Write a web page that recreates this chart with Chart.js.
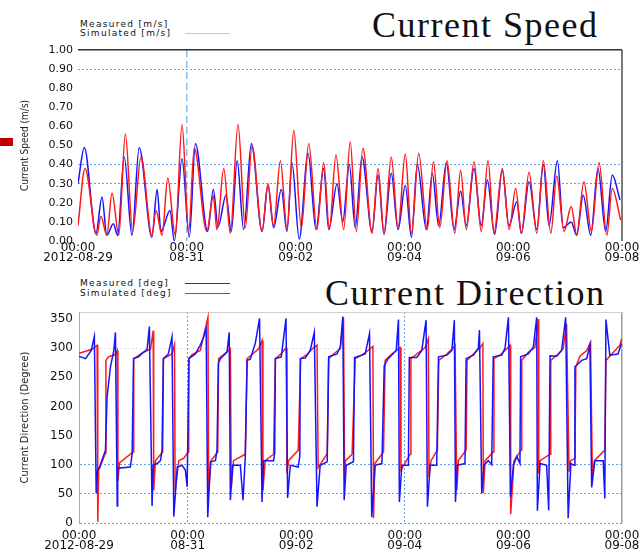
<!DOCTYPE html>
<html>
<head>
<meta charset="utf-8">
<title>Current Speed / Current Direction</title>
<script src="https://cdn.jsdelivr.net/npm/chart.js@4.4.1/dist/chart.umd.min.js"></script>
<style>
  html, body { margin: 0; padding: 0; background: #fff; }
  #page { position: relative; width: 644px; height: 553px; overflow: hidden; background: #fff; }
  canvas { position: absolute; left: 0; }
  .title { position: absolute; font-family: "Liberation Serif", serif; font-size: 36px; line-height: 36px;
           letter-spacing: 1.5px; color: #111; white-space: nowrap; }
  .legend { position: absolute; font-family: "DejaVu Sans", sans-serif; font-size: 9px; line-height: 10px;
            letter-spacing: 1.3px; color: #111; white-space: nowrap; }
  .sample { position: absolute; width: 45px; height: 0; }
</style>
</head>
<body>
<div id="page">
  <div class="title" style="left:372px; top:7px;">Current Speed</div>
  <div class="legend" style="left:80px; top:19px;">Measured [m/s]</div>
  <div class="legend" style="left:80px; top:28px;">Simulated [m/s]</div>
  <div class="sample" style="left:185px; top:33px; border-top:1px solid #f5b5b5;"></div>
  <div style="position:absolute; left:0; top:138px; width:13px; height:8px; background:#c00000;"></div>
  <canvas id="speedChart" width="644" height="268" style="top:0"></canvas>

  <div class="title" style="left:325px; top:275px;">Current Direction</div>
  <div class="legend" style="left:80px; top:278px;">Measured [deg]</div>
  <div class="legend" style="left:80px; top:288px;">Simulated [deg]</div>
  <div class="sample" style="left:185px; top:283px; border-top:1.5px solid #2020ff;"></div>
  <div class="sample" style="left:185px; top:293px; border-top:1.5px solid #ff2020;"></div>
  <canvas id="dirChart" width="644" height="283" style="top:270px"></canvas>
</div>

<script>
// eje x: horas desde 2012-08-29 00:00
const xTickValues = [0, 48, 96, 144, 192, 240];
const xTickDates = ['2012-08-29', '08-31', '09-02', '09-04', '09-06', '09-08'];
const speedTicks = [0, 0.1, 0.2, 0.3, 0.4, 0.5, 0.6, 0.7, 0.8, 0.9, 1.0];
const dirTicks = [0, 50, 100, 150, 200, 250, 300, 350];

// [hora, m/s]
const speedMeasured = [[0,0.30],[2.8,0.49],[7.9,0.04],[10.6,0.23],[12.7,0.03],[15.6,0.09],[17.5,0.03],[20.4,0.44],
  [23.8,0.03],[27.0,0.49],[32.6,0.02],[34.9,0.27],[36.6,0.05],[40.6,0.16],[42.5,0.00],[45.9,0.43],[49.1,0.02],
  [51.8,0.51],[57.2,0.05],[59.7,0.27],[61.8,0.075],[65.3,0.24],[67.6,0.05],[70.2,0.42],[73.1,0.06],[76.5,0.51],
  [81.2,0.05],[83.8,0.29],[86.3,0.07],[89.7,0.27],[92.2,0.05],[94.4,0.41],[97.6,0.01],[101.5,0.46],[105.0,0.06],
  [108.4,0.38],[110.6,0.06],[114.3,0.30],[116.8,0.10],[119.7,0.40],[122.3,0.07],[125.3,0.44],[129.7,0.05],
  [132.4,0.345],[135.0,0.035],[138.2,0.355],[141.2,0.06],[144.4,0.29],[147.1,0.02],[149.7,0.40],[153.7,0.06],
  [156.3,0.355],[159.1,0.08],[162.5,0.41],[165.9,0.06],[168.8,0.26],[171.3,0.08],[174.7,0.38],[177.9,0.08],
  [180.6,0.32],[183.8,0.035],[187.2,0.37],[190.1,0.08],[193.6,0.205],[195.6,0.04],[199.0,0.31],[202.4,0.06],
  [205.3,0.40],[207.8,0.08],[211.5,0.42],[214.1,0.07],[217.6,0.10],[220.0,0.03],[222.9,0.24],[226.2,0.03],
  [229.4,0.38],[232.8,0.05],[235.7,0.345],[239.1,0.215]];

const speedSimulated = [[0,0.08],[3.1,0.38],[8.3,0.03],[10.1,0.13],[12.7,0.03],[15.0,0.25],[18.0,0.03],[20.9,0.56],
  [24.1,0.05],[27.8,0.44],[32.6,0.03],[34.4,0.16],[37.1,0.03],[39.6,0.33],[42.9,0.03],[45.9,0.61],[48.8,0.05],
  [51.3,0.485],[56.8,0.05],[59.7,0.235],[61.3,0.06],[64.3,0.38],[67.2,0.04],[70.6,0.61],[73.8,0.07],[76.8,0.50],
  [81.2,0.05],[83.8,0.30],[86.3,0.08],[89.3,0.42],[92.2,0.06],[95.2,0.58],[98.5,0.07],[101.8,0.51],[105.4,0.06],
  [108.4,0.41],[110.9,0.06],[113.8,0.45],[117.2,0.06],[120.1,0.52],[122.8,0.05],[125.7,0.485],[129.7,0.04],
  [132.4,0.38],[135.0,0.04],[138.2,0.44],[141.2,0.07],[144.4,0.455],[147.1,0.04],[150.3,0.46],[154.1,0.06],
  [156.8,0.415],[159.6,0.07],[162.8,0.42],[166.2,0.04],[168.8,0.37],[171.3,0.06],[174.7,0.415],[177.9,0.05],
  [180.9,0.42],[183.5,0.04],[187.2,0.38],[190.2,0.06],[193.1,0.275],[195.6,0.04],[199.0,0.36],[202.4,0.04],
  [205.3,0.42],[208.6,0.04],[211.2,0.34],[214.4,0.05],[217.6,0.18],[220.0,0.035],[223.2,0.31],[226.5,0.05],
  [229.9,0.41],[233.3,0.03],[235.7,0.275],[239.4,0.11]];

// [hora, grados]
const dirMeasured = [[0,286],[2.9,282],[5.4,296],[6.8,320],[7.6,51],[8.2,91],[9.1,96],[11.7,125],[12.4,216],
  [13.9,268],[15.4,296],[16.1,327],[16.9,29],[17.1,94],[22.7,96],[23.5,119],[24.1,282],[26.3,285],[28.5,293],
  [30.1,298],[31.1,337],[32.3,29],[32.8,99],[34.5,102],[36.0,107],[36.7,125],[37.3,282],[39.5,290],[41.1,319],
  [41.9,11],[43.4,96],[45.6,99],[47.0,91],[47.8,62],[48.6,282],[51.4,290],[53.6,305],[55.1,319],[56.2,333],
  [56.9,10],[58.1,105],[60.3,107],[61.0,125],[61.6,274],[62.5,282],[65.4,293],[66.4,327],[66.9,39],[67.9,99],
  [71.3,99],[72.5,39],[73.5,114],[74.3,279],[75.7,281],[77.9,308],[79.8,351],[80.9,36],[81.6,107],[86.0,107],
  [86.5,120],[86.8,282],[89.4,285],[91.5,351],[92.2,43],[93.4,99],[96.9,96],[97.6,115],[97.8,282],[100.0,283],
  [102.2,296],[104.0,327],[105.2,28],[106.6,99],[109.7,105],[110.4,285],[114.0,290],[115.5,302],[116.6,354],
  [117.2,39],[118.1,99],[121.3,105],[121.8,284],[126.5,290],[128.4,325],[129.4,10],[130.9,99],[133.9,102],
  [134.9,270],[136.6,282],[140.2,296],[141.2,349],[141.6,36],[142.7,99],[145.6,99],[146.0,284],[149.3,284],
  [151.5,296],[153.4,348],[154.0,28],[155.2,99],[158.1,99],[158.9,285],[162.6,288],[164.8,296],[165.9,348],
  [166.4,36],[167.2,99],[170.6,102],[171.1,282],[174.3,288],[176.5,300],[177.0,331],[178.0,51],[179.0,99],
  [180.9,107],[182.4,100],[183.1,285],[186.8,288],[188.3,300],[189.8,353],[190.7,45],[192.0,99],[193.5,114],
  [194.9,102],[195.2,285],[198.6,290],[200.8,302],[202.3,353],[202.6,21],[203.8,102],[206.7,99],[207.6,22],
  [208.2,287],[211.1,286],[213.3,296],[215.1,353],[216.2,8],[217.4,102],[218.8,99],[219.2,268],[222.2,279],
  [224.4,282],[225.8,305],[226.6,61],[228.0,107],[231.7,107],[232.4,42],[232.9,349],[234.6,288],[238.2,290],
  [239.8,308]];

const dirSimulated = [[0,291],[5.8,298],[8.0,305],[8.3,2],[8.7,90],[10.2,105],[11.7,120],[11.9,279],[13.0,285],
  [16.1,289],[16.9,296],[17.2,72],[17.9,103],[23.9,122],[24.2,282],[28.5,293],[31.6,298],[32.8,330],[33.0,56],
  [33.8,107],[37.0,122],[37.3,282],[41.1,290],[42.2,306],[42.5,54],[44.1,107],[46.3,111],[48.2,122],[48.5,282],
  [50.0,289],[53.6,296],[57.0,353],[57.3,54],[58.4,107],[61.3,122],[61.7,282],[63.9,289],[66.1,296],[66.9,299],
  [67.3,60],[68.3,107],[73.5,118],[74.3,282],[76.5,289],[79.4,299],[80.9,313],[81.3,56],[82.3,107],[86.0,118],
  [86.8,282],[89.0,289],[91.2,299],[91.7,300],[91.9,85],[92.6,107],[96.9,125],[98.0,282],[100.7,289],[103.7,301],
  [105.2,305],[105.7,95],[109.7,119],[110.3,282],[112.5,290],[115.5,299],[116.9,353],[117.4,79],[117.8,107],
  [120.7,118],[122.1,282],[125.0,288],[128.7,299],[129.9,303],[130.2,8],[130.7,102],[134.6,122],[135.3,279],
  [138.3,290],[141.2,299],[141.9,301],[142.3,91],[146.4,118],[146.7,282],[149.3,290],[153.0,301],[154.4,316],
  [154.7,79],[155.6,107],[158.4,125],[159.0,279],[162.6,290],[165.5,301],[166.2,305],[167.0,56],[167.7,107],
  [171.1,125],[171.5,279],[174.3,290],[177.3,301],[178.5,308],[178.7,51],[179.5,107],[183.1,122],[183.4,282],
  [186.8,290],[189.8,302],[190.5,305],[190.8,15],[192.3,107],[195.4,125],[195.7,279],[198.6,293],[201.5,301],
  [203.0,350],[203.2,85],[203.8,107],[208.2,118],[208.5,279],[211.8,290],[214.0,299],[215.5,342],[216.6,88],
  [217.3,107],[219.2,111],[219.6,268],[221.4,286],[224.4,296],[226.1,310],[226.9,82],[227.8,107],[232.4,125],
  [232.9,279],[236.2,293],[239.1,305],[239.8,316]];

const BLUE = '#1414ff';
const RED = '#ff1a1a';
const GRID_BLUE = '#5f9fe2';
const NONE = 'rgba(0,0,0,0)';
const TICK_FONT = { family: '"DejaVu Sans", sans-serif', size: 12 };
const TITLE_FONT = '"Liberation Sans Narrow", "DejaVu Sans Condensed", sans-serif';

const toPoints = pares => pares.map(p => ({ x: p[0], y: p[1] }));
const fixTicks = valores => scale => { scale.ticks = valores.map(v => ({ value: v })); };
const tickVal = ctx => (ctx.tick ? ctx.tick.value : null);

function serie(label, pares, color, orden, suave) {
    return {
        label: label,
        data: toPoints(pares),
        borderColor: color,
        borderWidth: 1.5,
        pointRadius: 0,
        fill: false,
        order: orden,
        cubicInterpolationMode: suave ? 'monotone' : 'default',
        tension: 0
    };
}

function ejeX(altura, padding, lineHeight, grid) {
    return {
        type: 'linear', min: 0, max: 240,
        afterBuildTicks: fixTicks(xTickValues),
        afterFit: s => { s.height = altura; s.paddingLeft = 0; s.paddingRight = 0; },
        ticks: {
            autoSkip: false, maxRotation: 0, padding: padding, color: '#111',
            font: Object.assign({}, TICK_FONT, { lineHeight: lineHeight }),
            callback: (v, i) => ['00:00', xTickDates[i]]
        },
        grid: Object.assign({ drawTicks: false }, grid.grid),
        border: grid.border
    };
}

Chart.defaults.animation = false;

// Velocidad
new Chart(document.getElementById('speedChart'), {
    type: 'line',
    data: {
        datasets: [
            serie('Measured [m/s]', speedMeasured, BLUE, 2, true),
            serie('Simulated [m/s]', speedSimulated, RED, 1, true)
        ]
    },
    options: {
        responsive: false,
        layout: { padding: { top: 50, right: 22, left: 0, bottom: 0 } },
        plugins: { legend: { display: false }, tooltip: { enabled: false } },
        scales: {
            x: ejeX(27, 2, 0.85, {
                grid: {
                    color: ctx => tickVal(ctx) === 48 ? '#8cbcf0' : (tickVal(ctx) === 240 ? '#7a7a7a' : NONE),
                    lineWidth: ctx => tickVal(ctx) === 240 ? 2 : 1.5
                },
                border: { display: false, dash: ctx => tickVal(ctx) === 48 ? [7, 4] : [] }
            }),
            y: {
                min: 0, max: 1,
                afterBuildTicks: fixTicks(speedTicks),
                afterFit: s => { s.width = 78; s.paddingTop = 0; s.paddingBottom = 0; },
                ticks: { padding: 5, color: '#111', font: { family: TICK_FONT.family, size: 11 },
                         callback: v => v.toFixed(2) },
                grid: {
                    drawTicks: false,
                    color: ctx => {
                        const v = tickVal(ctx);
                        if (v === 1) return '#333';
                        return [0.9, 0.4, 0.3].includes(v) ? GRID_BLUE : NONE;
                    },
                    lineWidth: ctx => tickVal(ctx) === 1 ? 1.5 : 1
                },
                border: { display: false, dash: ctx => tickVal(ctx) === 1 ? [] : [2, 2] },
                title: { display: true, text: 'Current Speed (m/s)', color: '#222',
                         font: { family: TITLE_FONT, size: 10 }, padding: { top: 19, bottom: 0 } }
            }
        }
    }
});

// Dirección
new Chart(document.getElementById('dirChart'), {
    type: 'line',
    data: {
        datasets: [
            serie('Measured [deg]', dirMeasured, BLUE, 1, false),
            serie('Simulated [deg]', dirSimulated, RED, 2, false)
        ]
    },
    options: {
        responsive: false,
        layout: { padding: { top: 42, right: 22, left: 0, bottom: 0 } },
        plugins: { legend: { display: false }, tooltip: { enabled: false } },
        scales: {
            x: ejeX(30, 7, 0.9, {
                grid: {
                    color: ctx => {
                        const v = tickVal(ctx);
                        if (v === 240) return '#9a9a9a';
                        return (v === 48 || v === 144) ? GRID_BLUE : NONE;
                    },
                    lineWidth: ctx => tickVal(ctx) === 240 ? 1.5 : 1
                },
                border: { display: false, dash: ctx => tickVal(ctx) === 240 ? [] : [2, 2] }
            }),
            xTop: {
                type: 'linear', position: 'top', min: 0, max: 240,
                afterFit: s => { s.height = 0; s.paddingLeft = 0; s.paddingRight = 0; },
                ticks: { display: false },
                grid: { display: false, drawTicks: false },
                border: { display: true, color: '#cfcfcf', width: 1 }
            },
            y: {
                min: 0, max: 362,
                afterBuildTicks: fixTicks(dirTicks),
                afterFit: s => { s.width = 79; s.paddingTop = 0; s.paddingBottom = 0; },
                ticks: { padding: 6, color: '#111', font: TICK_FONT },
                grid: {
                    drawTicks: false,
                    color: ctx => {
                        const v = tickVal(ctx);
                        if (v === 300) return '#dce6f2';
                        return [0, 50, 100].includes(v) ? GRID_BLUE : NONE;
                    }
                },
                border: { display: true, color: '#a8a8a8', width: 1, dash: ctx => [2, 2] },
                title: { display: true, text: 'Current Direction (Degree)', color: '#222',
                         font: { family: TITLE_FONT, size: 11 }, padding: { top: 19, bottom: 0 } }
            }
        }
    }
});
</script>
</body>
</html>
